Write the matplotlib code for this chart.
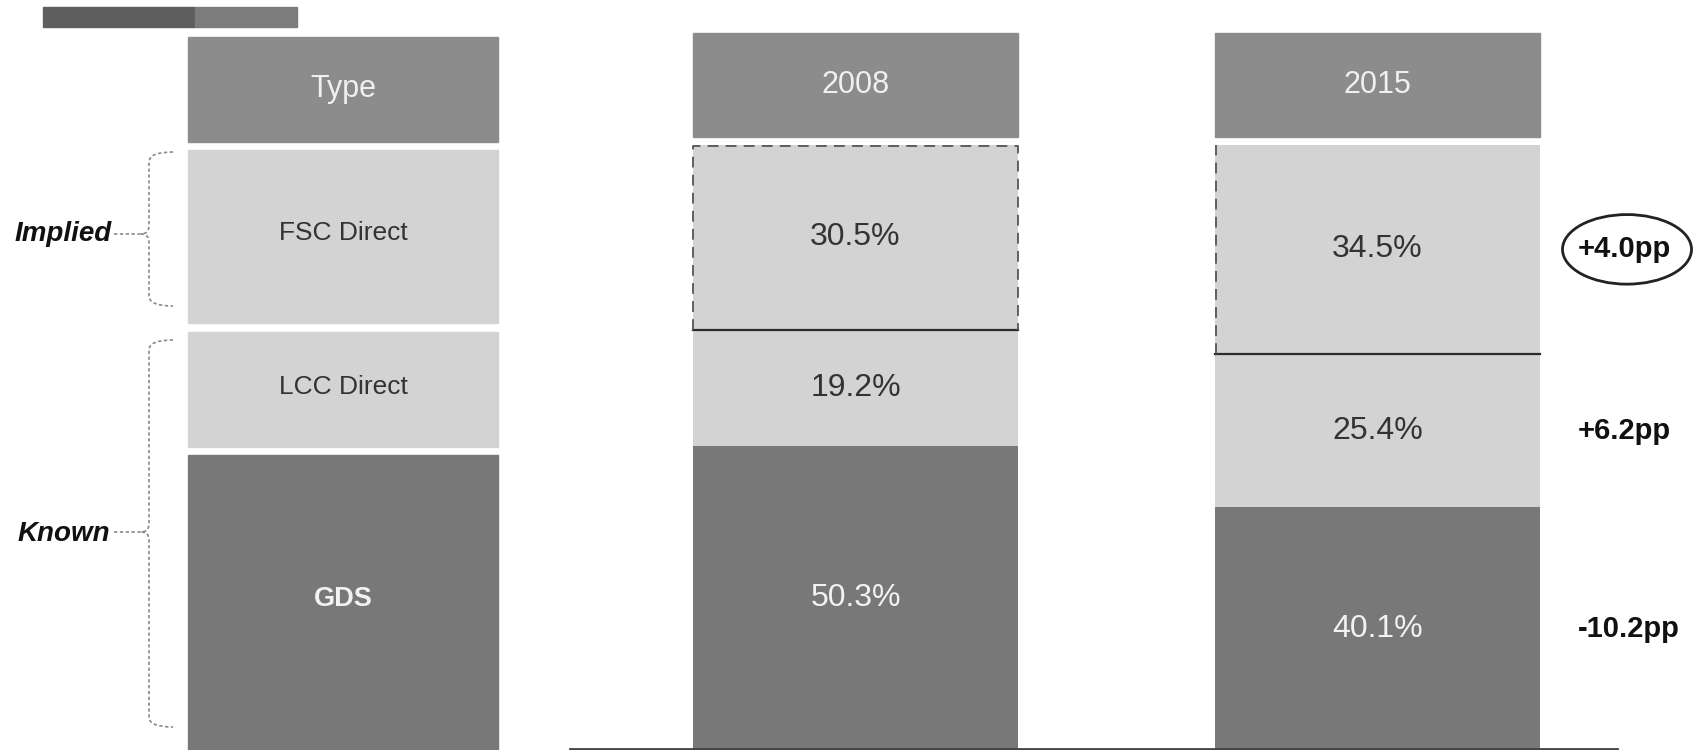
import numpy as np
import matplotlib.pyplot as plt
from matplotlib.patches import Rectangle, Ellipse, PathPatch
from matplotlib.path import Path

plt.rcParams['font.family'] = ['Liberation Sans', 'DejaVu Sans']

# channel shares (%) by year
years = ['2008', '2015']
channels = ['FSC Direct', 'LCC Direct', 'GDS']
share_2008 = [30.5, 19.2, 50.3]
share_2015 = [34.5, 25.4, 40.1]
changes = ['+4.0pp', '+6.2pp', '-10.2pp']
groups = ['Implied', 'Known']

HEAD = '#8c8c8c'
LIGHT = '#d3d3d3'
DARK = '#787878'
seg_colors = [LIGHT, LIGHT, DARK]
txt_colors = ['#333333', '#333333', '#f2f2f2']

W, H = 1695, 750
fig = plt.figure(figsize=(W / 100, H / 100), dpi=100)

# stacked bars: axis spans from the top of the bars down to the bottom edge
bar_top = 145
axb = fig.add_axes([0, 0, 1, (H - bar_top) / H])
axb.set_xlim(0, W)
axb.set_ylim(0, 100)
axb.axis('off')

bar_x = [855.5, 1377.5]
bar_w = 325
tops = {}
for xi, vals in zip(bar_x, [share_2008, share_2015]):
    # GDS at the bottom, FSC on top
    bottom = 0
    order = list(range(len(vals)))[::-1]
    for i in order:
        v = vals[i]
        axb.bar(xi, v, bottom=bottom, width=bar_w, color=seg_colors[i],
                edgecolor='none', zorder=1)
        axb.text(xi, bottom + v / 2, f'{v}%', ha='center', va='center',
                 fontsize=23, color=txt_colors[i], zorder=3)
        bottom += v
    # solid line between FSC and LCC
    fsc_bottom = 100 - vals[0]
    axb.plot([xi - bar_w / 2, xi + bar_w / 2], [fsc_bottom, fsc_bottom],
             color='#2a2a2a', lw=1.6, zorder=2)
    tops[xi] = fsc_bottom

# dashed outline of the implied segment
x0, x1 = bar_x[0] - bar_w / 2, bar_x[0] + bar_w / 2
fb = tops[bar_x[0]]
axb.plot([x0, x0, x1, x1], [fb, 99.8, 99.8, fb], color='#555555', lw=1.3,
         ls=(0, (6, 4)), zorder=2)
x0 = bar_x[1] - bar_w / 2
axb.plot([x0 + 1, x0 + 1], [tops[bar_x[1]], 100], color='#555555', lw=1.3,
         ls=(0, (6, 4)), zorder=2)

# change labels next to 2015 bar
bottom = 0
mids = {}
for i in range(len(share_2015))[::-1]:
    mids[i] = bottom + share_2015[i] / 2
    bottom += share_2015[i]
for i, c in enumerate(changes):
    axb.text(1578, mids[i], c, ha='left', va='center', fontsize=21,
             fontweight='bold', color='#111111')
axb.add_patch(Ellipse((1627, mids[0]), 129, 11.5, facecolor='none',
                      edgecolor='#222222', lw=2))

# overlay in pixel coordinates for the table parts
ax = fig.add_axes([0, 0, 1, 1])
ax.set_xlim(0, W)
ax.set_ylim(H, 0)
ax.axis('off')
ax.patch.set_alpha(0)

# title bar
ax.add_patch(Rectangle((43, 7), 152, 20, color='#5e5e5e'))
ax.add_patch(Rectangle((195, 7), 102, 20, color='#7c7c7c'))

# header boxes
heads = [('Type', 188, 498, 37, 142), (years[0], 693, 1018, 33, 137),
         (years[1], 1215, 1540, 33, 137)]
for label, l, r, t, b in heads:
    ax.add_patch(Rectangle((l, t), r - l, b - t, color=HEAD))
    ax.text((l + r) / 2, (t + b) / 2, label, ha='center', va='center',
            fontsize=22, color='#f0f0f0')

# type column
rows = [(150, 323), (332, 447), (455, 750)]
for i, (t, b) in enumerate(rows):
    ax.add_patch(Rectangle((188, t), 310, b - t, color=seg_colors[i]))
    ax.text(343, (t + b) / 2 - 3, channels[i], ha='center', va='center',
            fontsize=19 if i < 2 else 19.5, color=txt_colors[i],
            fontweight='bold' if i == 2 else 'normal')


def brace(y0, y1, ym):
    xs, xt, xh = 149, 141, 173
    verts = [(xh, y0), (xs, y0), (xs, y0 + 10),
             (xs, ym - 8), (xs, ym), (xt, ym),
             (xs, ym), (xs, ym + 8),
             (xs, y1 - 10), (xs, y1), (xh, y1)]
    codes = [Path.MOVETO, Path.CURVE3, Path.CURVE3,
             Path.LINETO, Path.CURVE3, Path.CURVE3,
             Path.CURVE3, Path.CURVE3,
             Path.LINETO, Path.CURVE3, Path.CURVE3]
    ax.add_patch(PathPatch(Path(verts, codes), facecolor='none',
                           edgecolor='#8a8a8a', lw=1.2, ls=(0, (2, 1.5))))
    ax.plot([114, xt], [ym, ym], color='#8a8a8a', lw=1.2, ls=(0, (2, 1.5)))


brace(152, 306, 234)
brace(340, 727, 532)
ax.text(112, 234, groups[0], ha='right', va='center', fontsize=20,
        fontweight='bold', style='italic', color='#111111')
ax.text(110, 534, groups[1], ha='right', va='center', fontsize=20,
        fontweight='bold', style='italic', color='#111111')

# baseline under the bars
ax.plot([570, 1617], [748.5, 748.5], color='#444444', lw=2)

fig.savefig('out.png', dpi=100)
